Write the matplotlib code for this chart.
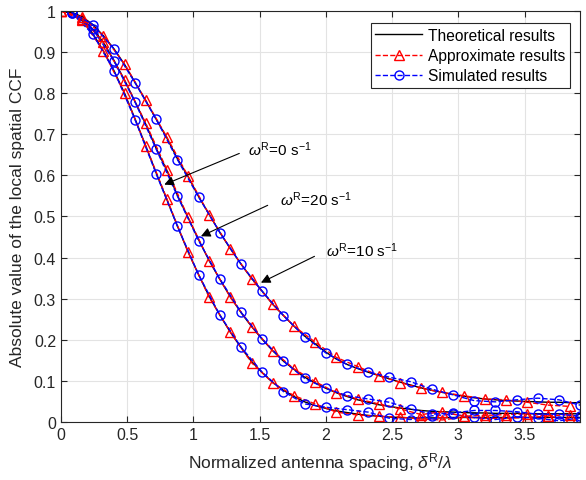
import numpy as np
import matplotlib.pyplot as plt

plt.rcParams['font.family'] = ['Liberation Sans', 'DejaVu Sans']
plt.rcParams['mathtext.fontset'] = 'custom'
plt.rcParams['mathtext.rm'] = 'Liberation Sans'
plt.rcParams['mathtext.it'] = 'Liberation Sans:italic'

# x grids (normalized antenna spacing)
x_theory = np.round(np.arange(50) * 0.08, 2)
x_approx = x_theory[0::2]   # triangles
x_sim = x_theory[1::2]      # circles

# theoretical curves (black lines)
theory_w0 = [1.000, 0.995, 0.976, 0.945, 0.903, 0.855, 0.800, 0.737, 0.672, 0.605,
             0.541, 0.476, 0.414, 0.358, 0.305, 0.260, 0.218, 0.181, 0.147, 0.120,
             0.096, 0.077, 0.062, 0.049, 0.040, 0.033, 0.027, 0.023, 0.019, 0.016,
             0.014, 0.012, 0.011, 0.010, 0.010, 0.010, 0.010, 0.011, 0.011, 0.011,
             0.011, 0.011, 0.011, 0.011, 0.011, 0.011, 0.011, 0.011, 0.011, 0.011]
theory_w20 = [1.000, 0.996, 0.981, 0.956, 0.924, 0.880, 0.832, 0.779, 0.725, 0.665,
              0.612, 0.551, 0.497, 0.443, 0.392, 0.347, 0.304, 0.266, 0.232, 0.201,
              0.173, 0.148, 0.128, 0.109, 0.095, 0.082, 0.071, 0.062, 0.054, 0.048,
              0.042, 0.038, 0.034, 0.031, 0.028, 0.026, 0.025, 0.024, 0.023, 0.022,
              0.022, 0.021, 0.021, 0.021, 0.020, 0.020, 0.020, 0.020, 0.020, 0.020]
theory_w10 = [1.000, 0.997, 0.986, 0.967, 0.940, 0.908, 0.870, 0.826, 0.782, 0.736,
              0.691, 0.640, 0.597, 0.548, 0.505, 0.461, 0.421, 0.384, 0.349, 0.318,
              0.286, 0.259, 0.233, 0.209, 0.190, 0.170, 0.153, 0.140, 0.130, 0.121,
              0.113, 0.105, 0.097, 0.090, 0.083, 0.077, 0.072, 0.067, 0.063, 0.059,
              0.056, 0.054, 0.052, 0.051, 0.050, 0.049, 0.048, 0.048, 0.047, 0.047]

# approximate results (red triangles)
approx_w0 = [1.000, 0.978, 0.903, 0.800, 0.672, 0.543, 0.413, 0.303, 0.218, 0.144,
             0.095, 0.064, 0.044, 0.024, 0.017, 0.014, 0.012, 0.007, 0.005, 0.012,
             0.009, 0.009, 0.011, 0.014, 0.007]
approx_w20 = [1.000, 0.981, 0.924, 0.832, 0.727, 0.614, 0.498, 0.392, 0.303, 0.232,
              0.173, 0.129, 0.098, 0.071, 0.056, 0.044, 0.032, 0.018, 0.025, 0.014,
              0.016, 0.018, 0.020, 0.015, 0.018]
approx_w10 = [1.000, 0.985, 0.940, 0.871, 0.783, 0.693, 0.598, 0.504, 0.421, 0.348,
              0.286, 0.233, 0.194, 0.157, 0.135, 0.113, 0.096, 0.082, 0.072, 0.064,
              0.056, 0.054, 0.048, 0.041, 0.038]

# simulated results (blue circles)
sim_w0 = [0.995, 0.944, 0.855, 0.735, 0.603, 0.476, 0.358, 0.260, 0.182, 0.121,
          0.074, 0.044, 0.036, 0.030, 0.024, 0.009, 0.006, 0.015, 0.019, 0.011,
          0.006, 0.012, 0.009, 0.003, 0.010]
sim_w20 = [0.996, 0.956, 0.879, 0.778, 0.663, 0.549, 0.441, 0.348, 0.267, 0.202,
           0.148, 0.106, 0.082, 0.064, 0.056, 0.048, 0.032, 0.019, 0.022, 0.028,
           0.028, 0.025, 0.019, 0.019, 0.014]
sim_w10 = [0.997, 0.967, 0.908, 0.825, 0.736, 0.638, 0.547, 0.461, 0.384, 0.318,
           0.259, 0.208, 0.168, 0.140, 0.122, 0.109, 0.098, 0.080, 0.066, 0.052,
           0.049, 0.054, 0.058, 0.054, 0.041]

xticks = [0, 0.5, 1, 1.5, 2, 2.5, 3, 3.5]
yticks = np.round(np.arange(0, 1.01, 0.1), 1)

fig = plt.figure(figsize=(5.86, 4.81), dpi=100)
ax = fig.add_axes([0.104, 0.1206, 0.886, 0.8545])

for th, ap, sm in [(theory_w0, approx_w0, sim_w0),
                   (theory_w20, approx_w20, sim_w20),
                   (theory_w10, approx_w10, sim_w10)]:
    l1, = ax.plot(x_theory, th, '-', color='k', lw=1.0)
    l2, = ax.plot(x_approx, ap, '--', color='r', marker='^', lw=1.0, markersize=7.5,
                  markerfacecolor='none', markeredgewidth=1.0)
    l3, = ax.plot(x_sim, sm, '--', color='b', marker='o', lw=1.0, markersize=6.5,
                  markerfacecolor='none', markeredgewidth=1.0)

ax.set_xlim(0, 3.92)
ax.set_ylim(0, 1)
ax.set_xticks(xticks)
ax.set_xticklabels([f'{t:g}' for t in xticks])
ax.set_yticks(yticks)
ax.set_yticklabels([f'{t:g}' for t in yticks])
ax.grid(True, color='#e3e3e3', lw=0.8)
ax.set_axisbelow(True)
ax.tick_params(direction='in', top=True, right=True, length=4, labelsize=11.5,
               color='#262626', labelcolor='#262626')
for s in ax.spines.values():
    s.set_color('#262626')
    s.set_linewidth(0.8)

ax.set_xlabel(r'Normalized antenna spacing, $\delta^{\rm R}/\lambda$', fontsize=12.5,
              color='#262626', labelpad=6)
ax.set_ylabel('Absolute value of the local spatial CCF', fontsize=12.5, color='#262626',
              labelpad=6)

leg = ax.legend([l1, l2, l3], ['Theoretical results', 'Approximate results', 'Simulated results'],
                loc='upper right', bbox_to_anchor=(0.981, 0.971), borderaxespad=0,
                fancybox=False, edgecolor='#262626', framealpha=1, fontsize=11.2,
                handlelength=3.0, numpoints=1, borderpad=0.3, labelspacing=0.35,
                handletextpad=0.4)
leg.get_frame().set_linewidth(0.8)

arrow = dict(arrowstyle='-|>', color='k', lw=0.8, mutation_scale=14)
ax.annotate('', xy=(0.761, 0.575), xytext=(1.366, 0.656), arrowprops=arrow)
ax.annotate('', xy=(1.038, 0.449), xytext=(1.58, 0.530), arrowprops=arrow)
ax.annotate('', xy=(1.491, 0.336), xytext=(1.933, 0.406), arrowprops=arrow)
ax.text(1.413, 0.664, r'$\omega^{\rm R}$=0 s$^{-1}$', fontsize=11, va='center')
ax.text(1.655, 0.543, r'$\omega^{\rm R}$=20 s$^{-1}$', fontsize=11, va='center')
ax.text(2.003, 0.418, r'$\omega^{\rm R}$=10 s$^{-1}$', fontsize=11, va='center')

fig.savefig('out.png', dpi=100)
